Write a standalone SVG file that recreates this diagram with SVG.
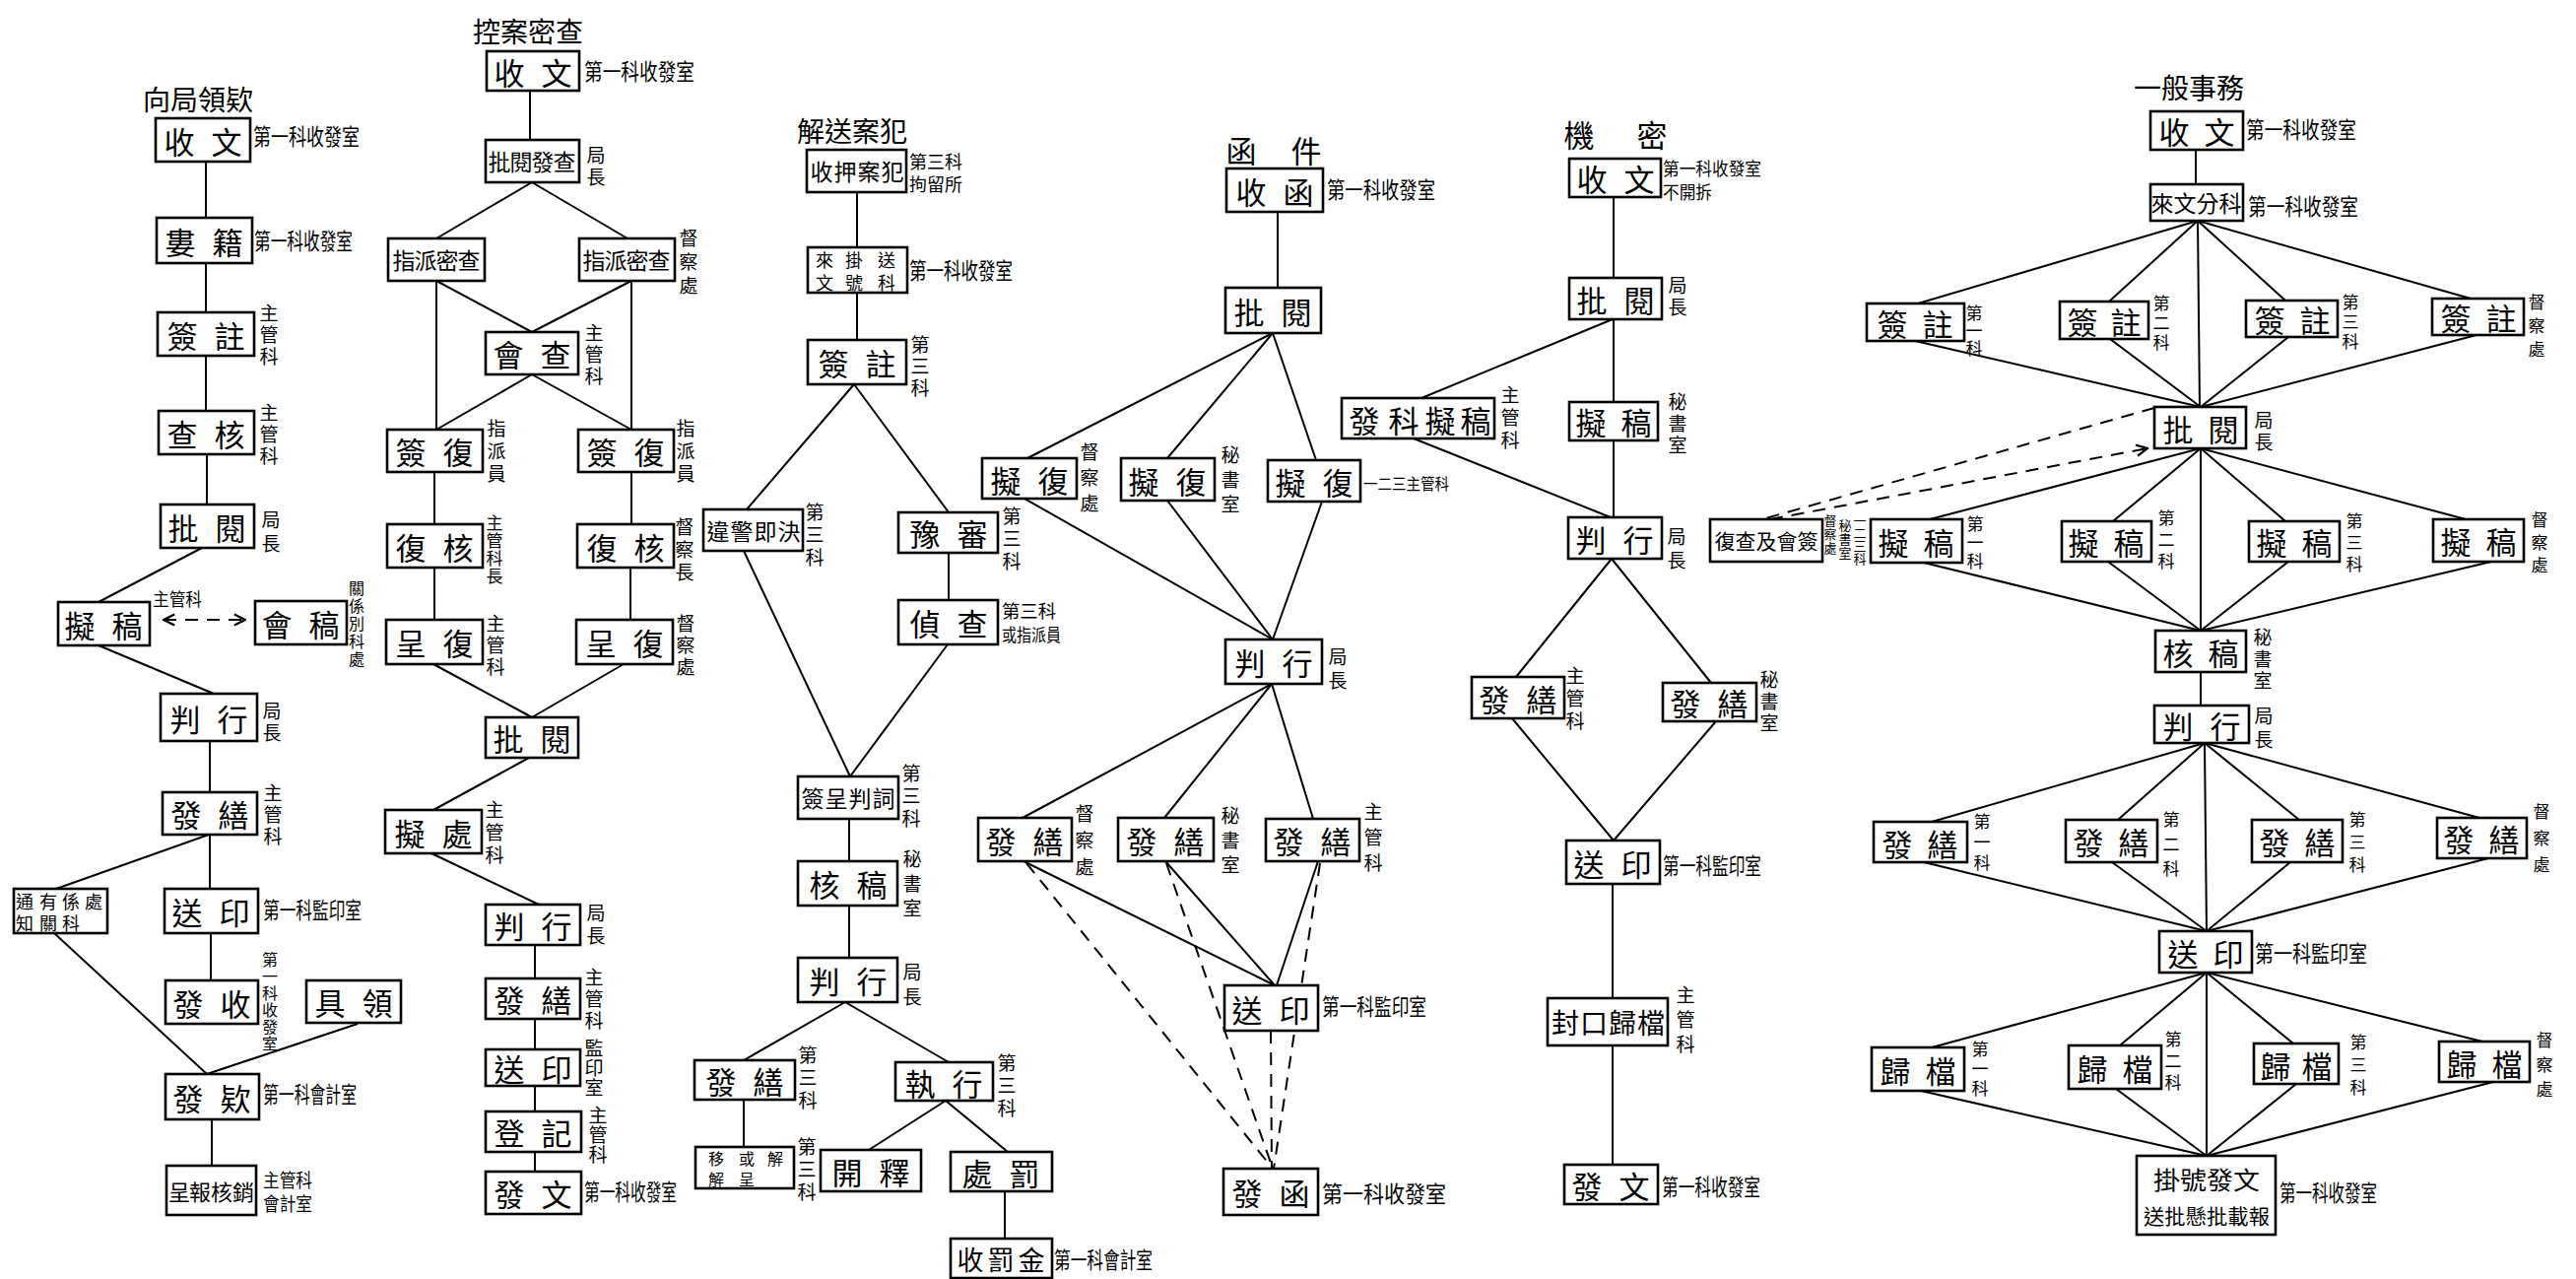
<svg xmlns="http://www.w3.org/2000/svg" width="2615" height="1298" viewBox="0 0 2615 1298">
<defs>
<style>
rect.b{fill:#fff;stroke:#000;stroke-width:2.6}
text{font-family:"Noto Sans CJK TC","Noto Sans CJK SC",sans-serif;fill:#000;dominant-baseline:central}
.t{font-size:31px;text-anchor:middle}
.t4{font-size:23px;text-anchor:middle}
.h{font-size:28px;text-anchor:middle}
.l{font-size:23px}
.v{font-size:19px;text-anchor:middle}
.vs{font-size:17px;text-anchor:middle}
.s{font-size:18px;text-anchor:middle}
.k line{stroke:#000;stroke-width:2;fill:none}
.k line.d{stroke-dasharray:13 9}
</style>
<marker id="ah" viewBox="0 0 10 10" refX="9" refY="5" markerWidth="14" markerHeight="14" markerUnits="userSpaceOnUse" orient="auto-start-reverse"><path d="M1,1 L9,5 L1,9" fill="none" stroke="#000" stroke-width="1.6"/></marker>
</defs>
<rect width="2615" height="1298" fill="#fff"/>

<g id="connectors" class="k">
<!-- column 1 -->
<line x1="209" y1="164" x2="209" y2="221"/><line x1="209" y1="267" x2="209" y2="317"/><line x1="209" y1="361" x2="209" y2="417"/><line x1="210" y1="461" x2="210" y2="512"/>
<line x1="205" y1="556" x2="100" y2="611"/><line x1="100" y1="655" x2="217" y2="704"/>
<line x1="213" y1="752" x2="213" y2="804"/><line x1="212" y1="847" x2="57" y2="902"/><line x1="213" y1="847" x2="213" y2="902"/>
<line x1="214" y1="947" x2="214" y2="995"/><line x1="55" y1="947" x2="210" y2="1090"/><line x1="363" y1="1039" x2="210" y2="1090"/>
<line x1="215" y1="1136" x2="215" y2="1183"/>
<line class="d" x1="166" y1="629" x2="249" y2="629" marker-start="url(#ah)" marker-end="url(#ah)"/>
<!-- column 2 -->
<line x1="538" y1="92" x2="538" y2="142"/>
<line x1="540" y1="185" x2="443" y2="242"/><line x1="540" y1="185" x2="637" y2="242"/>
<line x1="443" y1="285" x2="443" y2="436"/><line x1="443" y1="285" x2="540" y2="337"/>
<line x1="641" y1="285" x2="540" y2="337"/><line x1="641" y1="285" x2="641" y2="436"/>
<line x1="540" y1="380" x2="443" y2="436"/><line x1="540" y1="380" x2="641" y2="436"/>
<line x1="441" y1="479" x2="441" y2="532"/><line x1="641" y1="479" x2="641" y2="532"/>
<line x1="441" y1="576" x2="441" y2="629"/><line x1="640" y1="576" x2="640" y2="629"/>
<line x1="440" y1="674" x2="540" y2="728"/><line x1="633" y1="674" x2="540" y2="728"/>
<line x1="537" y1="769" x2="440" y2="822"/><line x1="438" y1="866" x2="547" y2="918"/>
<line x1="543" y1="959" x2="543" y2="993"/><line x1="543" y1="1034" x2="543" y2="1065"/><line x1="543" y1="1102" x2="543" y2="1128"/><line x1="543" y1="1169" x2="543" y2="1189"/>
<!-- column 3 -->
<line x1="870" y1="195" x2="870" y2="251"/><line x1="870" y1="297" x2="870" y2="345"/>
<line x1="867" y1="390" x2="758" y2="517"/><line x1="867" y1="390" x2="963" y2="520"/>
<line x1="755" y1="559" x2="863" y2="788"/><line x1="963" y1="561" x2="963" y2="609"/><line x1="962" y1="654" x2="863" y2="788"/>
<line x1="862" y1="831" x2="862" y2="874"/><line x1="862" y1="919" x2="862" y2="972"/>
<line x1="858" y1="1017" x2="755" y2="1076"/><line x1="858" y1="1017" x2="963" y2="1078"/>
<line x1="755" y1="1116" x2="755" y2="1164"/>
<line x1="960" y1="1117" x2="882" y2="1167"/><line x1="960" y1="1117" x2="1023" y2="1169"/>
<line x1="1020" y1="1209" x2="1020" y2="1257"/>
<!-- column 4 -->
<line x1="1297" y1="215" x2="1297" y2="292"/>
<line x1="1292" y1="338" x2="1043" y2="465"/><line x1="1292" y1="338" x2="1185" y2="465"/><line x1="1292" y1="338" x2="1336" y2="467"/>
<line x1="1040" y1="506" x2="1292" y2="649"/><line x1="1185" y1="508" x2="1292" y2="649"/><line x1="1342" y1="509" x2="1292" y2="649"/>
<line x1="1291" y1="694" x2="1038" y2="830"/><line x1="1291" y1="694" x2="1182" y2="830"/><line x1="1291" y1="694" x2="1333" y2="831"/>
<line x1="1039" y1="874" x2="1294" y2="1000"/><line x1="1183" y1="874" x2="1294" y2="1000"/><line x1="1338" y1="874" x2="1296" y2="1000"/>
<line class="d" x1="1042" y1="876" x2="1292" y2="1186"/><line class="d" x1="1184" y1="876" x2="1292" y2="1186"/><line class="d" x1="1340" y1="876" x2="1293" y2="1186"/>
<line class="d" x1="1290" y1="1046" x2="1291" y2="1186"/>
<!-- column 5 -->
<line x1="1638" y1="200" x2="1638" y2="282"/><line x1="1638" y1="324" x2="1638" y2="408"/><line x1="1638" y1="447" x2="1638" y2="525"/>
<line x1="1637" y1="324" x2="1443" y2="404"/><line x1="1435" y1="445" x2="1635" y2="525"/>
<line x1="1636" y1="567" x2="1539" y2="687"/><line x1="1636" y1="567" x2="1737" y2="693"/>
<line x1="1535" y1="729" x2="1638" y2="853"/><line x1="1742" y1="732" x2="1638" y2="853"/>
<line x1="1637" y1="897" x2="1637" y2="1013"/><line x1="1637" y1="1061" x2="1637" y2="1182"/>
<!-- column 6 -->
<line x1="2229" y1="152" x2="2229" y2="187"/>
<line x1="2231" y1="224" x2="1947" y2="308"/><line x1="2231" y1="224" x2="2141" y2="306"/><line x1="2231" y1="224" x2="2320" y2="305"/><line x1="2231" y1="224" x2="2508" y2="303"/><line x1="2231" y1="224" x2="2233" y2="413"/>
<line x1="1944" y1="346" x2="2234" y2="413"/><line x1="2142" y1="344" x2="2234" y2="413"/><line x1="2323" y1="342" x2="2234" y2="413"/><line x1="2514" y1="340" x2="2234" y2="413"/>
<line x1="2234" y1="455" x2="1959" y2="527"/><line x1="2234" y1="455" x2="2145" y2="529"/><line x1="2234" y1="455" x2="2320" y2="529"/><line x1="2234" y1="455" x2="2503" y2="527"/><line x1="2234" y1="455" x2="2234" y2="640"/>
<line x1="1953" y1="571" x2="2234" y2="640"/><line x1="2140" y1="570" x2="2234" y2="640"/><line x1="2323" y1="570" x2="2234" y2="640"/><line x1="2529" y1="570" x2="2234" y2="640"/>
<line x1="2234" y1="682" x2="2234" y2="716"/>
<line x1="2238" y1="754" x2="1961" y2="834"/><line x1="2238" y1="754" x2="2150" y2="832"/><line x1="2238" y1="754" x2="2334" y2="832"/><line x1="2238" y1="754" x2="2517" y2="830"/><line x1="2238" y1="754" x2="2240" y2="945"/>
<line x1="1953" y1="875" x2="2240" y2="945"/><line x1="2144" y1="875" x2="2240" y2="945"/><line x1="2325" y1="875" x2="2240" y2="945"/><line x1="2526" y1="871" x2="2240" y2="945"/>
<line x1="2240" y1="987" x2="1961" y2="1063"/><line x1="2240" y1="987" x2="2152" y2="1061"/><line x1="2240" y1="987" x2="2328" y2="1059"/><line x1="2240" y1="987" x2="2520" y2="1057"/><line x1="2240" y1="987" x2="2240" y2="1173"/>
<line x1="1950" y1="1107" x2="2240" y2="1173"/><line x1="2148" y1="1105" x2="2240" y2="1173"/><line x1="2331" y1="1100" x2="2240" y2="1173"/><line x1="2531" y1="1098" x2="2240" y2="1173"/>
<line class="d" x1="2187" y1="414" x2="1789" y2="527"/>
<line class="d" x1="1797" y1="527" x2="2180" y2="455" marker-end="url(#ah)"/>
</g>

<!-- ================= column 1 ================= -->
<g id="c1-title"><text class="h" x="201" y="100">向局領欵</text></g>
<g id="c1-n1"><rect class="b" x="158" y="120" width="96" height="44"/><text class="t" x="182 230" y="142">收文</text><text class="l" x="257" y="137" textLength="108" lengthAdjust="spacingAndGlyphs">第一科收發室</text></g>
<g id="c1-n2"><rect class="b" x="159" y="221" width="97" height="46"/><text class="t" x="183 231" y="244">婁籍</text><text class="l" x="258" y="243" textLength="100" lengthAdjust="spacingAndGlyphs">第一科收發室</text></g>
<g id="c1-n3"><rect class="b" x="160" y="317" width="98" height="44"/><text class="t" x="185 233" y="339">簽註</text><text class="v" x="273 273 273" y="316 338 360">主管科</text></g>
<g id="c1-n4"><rect class="b" x="161" y="417" width="97" height="44"/><text class="t" x="185 233" y="439">查核</text><text class="v" x="273 273 273" y="417 439 461">主管科</text></g>
<g id="c1-n5"><rect class="b" x="163" y="512" width="95" height="44"/><text class="t" x="186 234" y="534">批閱</text><text class="v" x="275 275" y="526 550">局長</text></g>
<g id="c1-n6"><rect class="b" x="59" y="611" width="93" height="44"/><text class="t" x="81 129" y="633">擬稿</text><text class="l" x="155" y="607" style="font-size:18px" textLength="50" lengthAdjust="spacingAndGlyphs">主管科</text></g>
<g id="c1-n7"><rect class="b" x="259" y="610" width="93" height="44"/><text class="t" x="281 329" y="632">會稿</text><text class="vs" style="font-size:16px" x="362 362 362 362 362" y="596 614 632 650 668">關係別科處</text></g>
<g id="c1-n8"><rect class="b" x="163" y="704" width="98" height="48"/><text class="t" x="188 236" y="728">判行</text><text class="v" x="276 276" y="720 742">局長</text></g>
<g id="c1-n9"><rect class="b" x="165" y="804" width="96" height="43"/><text class="t" x="189 237" y="825">發繕</text><text class="v" x="277 277 277" y="803 825 847">主管科</text></g>
<g id="c1-n10"><rect class="b" x="14" y="902" width="95" height="45"/><text class="s" x="25 25" y="914 936">通知</text><text class="s" x="49 49" y="914 936">有關</text><text class="s" x="72 72" y="914 936">係科</text><text class="s" x="95" y="914">處</text></g>
<g id="c1-n11"><rect class="b" x="167" y="902" width="95" height="45"/><text class="t" x="190 238" y="924">送印</text><text class="l" x="267" y="922" textLength="100" lengthAdjust="spacingAndGlyphs">第一科監印室</text></g>
<g id="c1-n12"><rect class="b" x="168" y="995" width="94" height="44"/><text class="t" x="191 239" y="1017">發收</text><text class="vs" style="font-size:16px" x="274 274 274 274 274 274" y="973 990 1007 1024 1041 1058">第一科收發室</text></g>
<g id="c1-n13"><rect class="b" x="311" y="995" width="96" height="43"/><text class="t" x="335 383" y="1016">具領</text></g>
<g id="c1-n14"><rect class="b" x="168" y="1090" width="95" height="46"/><text class="t" x="191 239" y="1113">發欵</text><text class="l" x="267" y="1109" textLength="95" lengthAdjust="spacingAndGlyphs">第一科會計室</text></g>
<g id="c1-n15"><rect class="b" x="169" y="1183" width="91" height="50"/><text class="t4" style="font-size:22px" x="182 203 225 247" y="1208">呈報核銷</text><text class="l" style="font-size:19px" x="267" y="1196" textLength="50" lengthAdjust="spacingAndGlyphs">主管科</text><text class="l" style="font-size:19px" x="267" y="1220" textLength="50" lengthAdjust="spacingAndGlyphs">會計室</text></g>

<!-- ================= column 2 ================= -->
<g id="c2-title"><text class="h" x="536" y="31">控案密查</text></g>
<g id="c2-n1"><rect class="b" x="494" y="52" width="94" height="40"/><text class="t" x="517 565" y="72">收文</text><text class="l" x="593" y="71" textLength="112" lengthAdjust="spacingAndGlyphs">第一科收發室</text></g>
<g id="c2-n2"><rect class="b" x="493" y="142" width="95" height="43"/><text class="t4" x="507 529 551 573" y="163">批閱發查</text><text class="v" x="605 605" y="156 178">局長</text></g>
<g id="c2-n3"><rect class="b" x="394" y="242" width="98" height="43"/><text class="t4" x="410 432 454 476" y="263">指派密查</text></g>
<g id="c2-n4"><rect class="b" x="588" y="242" width="97" height="43"/><text class="t4" x="603 625 647 669" y="263">指派密查</text><text class="v" x="699 699 699" y="240 264 288">督察處</text></g>
<g id="c2-n5"><rect class="b" x="493" y="337" width="94" height="43"/><text class="t" x="516 564" y="358">會查</text><text class="v" x="603 603 603" y="336 358 380">主管科</text></g>
<g id="c2-n6"><rect class="b" x="393" y="436" width="97" height="43"/><text class="t" x="417 465" y="457">簽復</text><text class="v" x="504 504 504" y="433 456 479">指派員</text></g>
<g id="c2-n7"><rect class="b" x="587" y="436" width="97" height="43"/><text class="t" x="611 659" y="457">簽復</text><text class="v" x="696 696 696" y="433 456 479">指派員</text></g>
<g id="c2-n8"><rect class="b" x="393" y="532" width="97" height="44"/><text class="t" x="417 465" y="554">復核</text><text class="vs" x="502 502 502 502" y="529 547 565 583">主管科長</text></g>
<g id="c2-n9"><rect class="b" x="586" y="532" width="98" height="44"/><text class="t" x="611 659" y="554">復核</text><text class="v" x="695 695 695" y="533 556 579">督察長</text></g>
<g id="c2-n10"><rect class="b" x="392" y="629" width="98" height="45"/><text class="t" x="417 465" y="651">呈復</text><text class="v" x="503 503 503" y="631 653 675">主管科</text></g>
<g id="c2-n11"><rect class="b" x="585" y="629" width="98" height="45"/><text class="t" x="610 658" y="651">呈復</text><text class="v" x="696 696 696" y="631 653 675">督察處</text></g>
<g id="c2-n12"><rect class="b" x="493" y="728" width="94" height="41"/><text class="t" x="516 564" y="748">批閱</text></g>
<g id="c2-n13"><rect class="b" x="391" y="822" width="98" height="44"/><text class="t" x="416 464" y="844">擬處</text><text class="v" x="502 502 502" y="820 843 866">主管科</text></g>
<g id="c2-n14"><rect class="b" x="493" y="918" width="96" height="41"/><text class="t" x="517 565" y="938">判行</text><text class="v" x="605 605" y="925 948">局長</text></g>
<g id="c2-n15"><rect class="b" x="493" y="993" width="96" height="41"/><text class="t" x="517 565" y="1013">發繕</text><text class="v" x="603 603 603" y="990 1012 1034">主管科</text></g>
<g id="c2-n16"><rect class="b" x="493" y="1065" width="96" height="37"/><text class="t" x="517 565" y="1083">送印</text><text class="v" x="603 603 603" y="1062 1082 1102">監印室</text></g>
<g id="c2-n17"><rect class="b" x="493" y="1128" width="97" height="41"/><text class="t" x="517 565" y="1148">登記</text><text class="v" x="607 607 607" y="1130 1150 1170">主管科</text></g>
<g id="c2-n18"><rect class="b" x="493" y="1189" width="97" height="43"/><text class="t" x="517 565" y="1210">發文</text><text class="l" x="593" y="1208" textLength="94" lengthAdjust="spacingAndGlyphs">第一科收發室</text></g>

<!-- ================= column 3 ================= -->
<g id="c3-title"><text class="h" x="865" y="132">解送案犯</text></g>
<g id="c3-n1"><rect class="b" x="819" y="152" width="101" height="43"/><text class="t4" x="834 858 882 906" y="173">收押案犯</text><text class="l" style="font-size:18px" x="923" y="163" textLength="54" lengthAdjust="spacingAndGlyphs">第三科</text><text class="l" style="font-size:18px" x="923" y="186" textLength="54" lengthAdjust="spacingAndGlyphs">拘留所</text></g>
<g id="c3-n2"><rect class="b" x="820" y="251" width="101" height="46"/><text class="s" x="837 837" y="263 286">來文</text><text class="s" x="867 867" y="263 286">掛號</text><text class="s" x="900 900" y="263 286">送科</text><text class="l" x="923" y="273" textLength="105" lengthAdjust="spacingAndGlyphs">第一科收發室</text></g>
<g id="c3-n3"><rect class="b" x="820" y="345" width="100" height="45"/><text class="t" x="846 894" y="367">簽註</text><text class="v" x="934 934 934" y="348 370 392">第三科</text></g>
<g id="c3-n4"><rect class="b" x="714" y="517" width="101" height="42"/><text class="t4" x="729 753 777 801" y="538">違警即決</text><text class="v" x="827 827 827" y="518 541 564">第三科</text></g>
<g id="c3-n5"><rect class="b" x="912" y="520" width="101" height="41"/><text class="t" x="939 987" y="540">豫審</text><text class="v" x="1027 1027 1027" y="522 545 568">第三科</text></g>
<g id="c3-n6"><rect class="b" x="912" y="609" width="101" height="45"/><text class="t" x="939 987" y="631">偵查</text><text class="l" style="font-size:18px" x="1017" y="619" textLength="55" lengthAdjust="spacingAndGlyphs">第三科</text><text class="l" style="font-size:18px" x="1017" y="643" textLength="60" lengthAdjust="spacingAndGlyphs">或指派員</text></g>
<g id="c3-n7"><rect class="b" x="810" y="788" width="102" height="43"/><text class="t4" x="825 849 873 897" y="809">簽呈判詞</text><text class="v" x="925 925 925" y="783 806 829">第三科</text></g>
<g id="c3-n8"><rect class="b" x="810" y="874" width="101" height="45"/><text class="t" x="837 885" y="896">核稿</text><text class="v" x="926 926 926" y="870 895 920">秘書室</text></g>
<g id="c3-n9"><rect class="b" x="810" y="972" width="101" height="45"/><text class="t" x="837 885" y="994">判行</text><text class="v" x="926 926" y="985 1010">局長</text></g>
<g id="c3-n10"><rect class="b" x="705" y="1076" width="102" height="40"/><text class="t" x="732 780" y="1096">發繕</text><text class="v" x="820 820 820" y="1069 1092 1115">第三科</text></g>
<g id="c3-n11"><rect class="b" x="706" y="1164" width="100" height="42"/><text class="s" style="font-size:16px" x="727 727" y="1175 1196">移解</text><text class="s" style="font-size:16px" x="758 758" y="1175 1196">或呈</text><text class="s" style="font-size:16px" x="787" y="1175">解</text><text class="v" x="819 819 819" y="1162 1185 1208">第三科</text></g>
<g id="c3-n12"><rect class="b" x="909" y="1078" width="99" height="39"/><text class="t" x="934 982" y="1098">執行</text><text class="v" x="1022 1022 1022" y="1077 1100 1123">第三科</text></g>
<g id="c3-n13"><rect class="b" x="833" y="1167" width="102" height="42"/><text class="t" x="860 908" y="1188">開釋</text></g>
<g id="c3-n14"><rect class="b" x="965" y="1169" width="103" height="40"/><text class="t" x="992 1040" y="1189">處罰</text></g>
<g id="c3-n15"><rect class="b" x="965" y="1257" width="103" height="40"/><text class="t" style="font-size:27px" x="985 1016 1047" y="1277">收罰金</text><text class="l" x="1070" y="1277" textLength="100" lengthAdjust="spacingAndGlyphs">第一科會計室</text></g>

<!-- ================= column 4 ================= -->
<g id="c4-title"><text class="t" x="1260 1326" y="151">函件</text></g>
<g id="c4-n1"><rect class="b" x="1245" y="171" width="98" height="44"/><text class="t" x="1270 1318" y="193">收函</text><text class="l" x="1347" y="191" textLength="110" lengthAdjust="spacingAndGlyphs">第一科收發室</text></g>
<g id="c4-n2"><rect class="b" x="1244" y="292" width="97" height="46"/><text class="t" x="1268 1316" y="315">批閱</text></g>
<g id="c4-n3"><rect class="b" x="997" y="465" width="96" height="41"/><text class="t" x="1021 1069" y="486">擬復</text><text class="v" x="1106 1106 1106" y="457 483 509">督察處</text></g>
<g id="c4-n4"><rect class="b" x="1138" y="465" width="95" height="43"/><text class="t" x="1161 1209" y="487">擬復</text><text class="v" x="1249 1249 1249" y="460 485 510">秘書室</text></g>
<g id="c4-n5"><rect class="b" x="1287" y="467" width="94" height="42"/><text class="t" x="1310 1358" y="488">擬復</text><text class="l" style="font-size:16px" x="1384" y="490" textLength="87" lengthAdjust="spacingAndGlyphs">一二三主管科</text></g>
<g id="c4-n6"><rect class="b" x="1244" y="649" width="98" height="45"/><text class="t" x="1269 1317" y="671">判行</text><text class="v" x="1358 1358" y="665 689">局長</text></g>
<g id="c4-n7"><rect class="b" x="993" y="830" width="95" height="44"/><text class="t" x="1016 1064" y="852">發繕</text><text class="v" x="1101 1101 1101" y="824 851 878">督察處</text></g>
<g id="c4-n8"><rect class="b" x="1135" y="830" width="97" height="44"/><text class="t" x="1159 1207" y="852">發繕</text><text class="v" x="1249 1249 1249" y="826 851 876">秘書室</text></g>
<g id="c4-n9"><rect class="b" x="1285" y="831" width="95" height="43"/><text class="t" x="1308 1356" y="852">發繕</text><text class="v" x="1394 1394 1394" y="822 848 874">主管科</text></g>
<g id="c4-n10"><rect class="b" x="1243" y="1000" width="95" height="46"/><text class="t" x="1266 1314" y="1023">送印</text><text class="l" x="1342" y="1020" textLength="106" lengthAdjust="spacingAndGlyphs">第一科監印室</text></g>
<g id="c4-n11"><rect class="b" x="1242" y="1186" width="96" height="47"/><text class="t" x="1266 1314" y="1209">發函</text><text class="l" x="1342" y="1210" textLength="126" lengthAdjust="spacingAndGlyphs">第一科收發室</text></g>

<!-- ================= column 5 ================= -->
<g id="c5-title"><text class="t" x="1603 1677" y="135">機密</text></g>
<g id="c5-n1"><rect class="b" x="1593" y="161" width="93" height="39"/><text class="t" x="1616 1664" y="180">收文</text><text class="l" style="font-size:18px" x="1688" y="170" textLength="100" lengthAdjust="spacingAndGlyphs">第一科收發室</text><text class="l" style="font-size:18px" x="1688" y="194" textLength="50" lengthAdjust="spacingAndGlyphs">不開拆</text></g>
<g id="c5-n2"><rect class="b" x="1593" y="282" width="94" height="42"/><text class="t" x="1616 1664" y="303">批閱</text><text class="v" x="1703 1703" y="288 310">局長</text></g>
<g id="c5-n3"><rect class="b" x="1362" y="404" width="155" height="41"/><text class="t" x="1385 1425 1462 1498" y="425">發科擬稿</text><text class="v" x="1533 1533 1533" y="399 422 445">主管科</text></g>
<g id="c5-n4"><rect class="b" x="1593" y="408" width="90" height="39"/><text class="t" x="1615 1661" y="427">擬稿</text><text class="v" x="1703 1703 1703" y="406 428 450">秘書室</text></g>
<g id="c5-n5"><rect class="b" x="1592" y="525" width="95" height="42"/><text class="t" x="1615 1663" y="546">判行</text><text class="v" x="1702 1702" y="543 567">局長</text></g>
<g id="c5-n6"><rect class="b" x="1494" y="687" width="94" height="42"/><text class="t" x="1517 1565" y="708">發繕</text><text class="v" x="1599 1599 1599" y="684 707 730">主管科</text></g>
<g id="c5-n7"><rect class="b" x="1688" y="693" width="95" height="39"/><text class="t" x="1711 1759" y="712">發繕</text><text class="v" x="1796 1796 1796" y="688 710 732">秘書室</text></g>
<g id="c5-n8"><rect class="b" x="1590" y="853" width="95" height="44"/><text class="t" x="1613 1661" y="875">送印</text><text class="l" x="1688" y="877" textLength="100" lengthAdjust="spacingAndGlyphs">第一科監印室</text></g>
<g id="c5-n9"><rect class="b" x="1571" y="1013" width="122" height="48"/><text class="t" style="font-size:28px" x="1589 1618 1647 1676" y="1037">封口歸檔</text><text class="v" x="1711 1711 1711" y="1008 1033 1058">主管科</text></g>
<g id="c5-n10"><rect class="b" x="1588" y="1182" width="95" height="40"/><text class="t" x="1611 1659" y="1202">發文</text><text class="l" x="1687" y="1203" textLength="100" lengthAdjust="spacingAndGlyphs">第一科收發室</text></g>

<!-- ================= column 6 ================= -->
<g id="c6-title"><text class="h" x="2222" y="88">一般事務</text></g>
<g id="c6-n1"><rect class="b" x="2183" y="113" width="94" height="39"/><text class="t" x="2207 2253" y="132">收文</text><text class="l" x="2280" y="130" textLength="112" lengthAdjust="spacingAndGlyphs">第一科收發室</text></g>
<g id="c6-n2"><rect class="b" x="2183" y="187" width="94" height="37"/><text class="t4" x="2195 2218 2241 2264" y="205">來文分科</text><text class="l" x="2282" y="208" textLength="112" lengthAdjust="spacingAndGlyphs">第一科收發室</text></g>
<g id="c6-n3"><rect class="b" x="1895" y="308" width="99" height="38"/><text class="t" x="1921 1967" y="327">簽註</text><text class="vs" x="2004 2004 2004" y="316 334 352">第一科</text></g>
<g id="c6-n4"><rect class="b" x="2091" y="306" width="90" height="38"/><text class="t" x="2114 2158" y="325">簽註</text><text class="vs" x="2194 2194 2194" y="306 326 346">第二科</text></g>
<g id="c6-n5"><rect class="b" x="2280" y="305" width="93" height="37"/><text class="t" x="2304 2350" y="323">簽註</text><text class="vs" x="2386 2386 2386" y="305 325 345">第三科</text></g>
<g id="c6-n6"><rect class="b" x="2469" y="303" width="93" height="37"/><text class="t" x="2493 2539" y="321">簽註</text><text class="vs" x="2575 2575 2575" y="305 329 353">督察處</text></g>
<g id="c6-n7"><rect class="b" x="2187" y="413" width="93" height="42"/><text class="t" x="2211 2257" y="434">批閱</text><text class="v" x="2298 2298" y="425 447">局長</text></g>
<g id="c6-n8"><rect class="b" x="1736" y="527" width="114" height="43"/><text class="t4" style="font-size:21px" x="1751 1772 1793 1814 1835" y="548">復查及會簽</text><text class="vs" style="font-size:13px" x="1858 1858 1858" y="527 541 555">督察處</text><text class="vs" style="font-size:13px" x="1873 1873 1873" y="532 546 560">秘書室</text><text class="vs" style="font-size:13px" x="1888 1888 1888 1888" y="527 540 553 566">一二三科</text></g>
<g id="c6-n9"><rect class="b" x="1899" y="527" width="93" height="44"/><text class="t" x="1922 1968" y="549">擬稿</text><text class="vs" x="2005 2005 2005" y="530 549 568">第一科</text></g>
<g id="c6-n10"><rect class="b" x="2093" y="529" width="91" height="41"/><text class="t" x="2115 2161" y="549">擬稿</text><text class="vs" x="2199 2199 2199" y="524 546 568">第二科</text></g>
<g id="c6-n11"><rect class="b" x="2283" y="529" width="92" height="41"/><text class="t" x="2306 2352" y="549">擬稿</text><text class="vs" x="2390 2390 2390" y="527 549 571">第三科</text></g>
<g id="c6-n12"><rect class="b" x="2470" y="527" width="92" height="43"/><text class="t" x="2493 2539" y="548">擬稿</text><text class="vs" x="2578 2578 2578" y="526 549 572">督察處</text></g>
<g id="c6-n13"><rect class="b" x="2188" y="640" width="92" height="42"/><text class="t" x="2211 2257" y="661">核稿</text><text class="v" x="2297 2297 2297" y="645 667 689">秘書室</text></g>
<g id="c6-n14"><rect class="b" x="2187" y="716" width="96" height="38"/><text class="t" x="2211 2259" y="735">判行</text><text class="v" x="2298 2298" y="725 749">局長</text></g>
<g id="c6-n15"><rect class="b" x="1902" y="834" width="95" height="41"/><text class="t" x="1926 1972" y="855">發繕</text><text class="vs" x="2012 2012 2012" y="832 853 874">第一科</text></g>
<g id="c6-n16"><rect class="b" x="2097" y="832" width="93" height="43"/><text class="t" x="2120 2166" y="853">發繕</text><text class="vs" x="2204 2204 2204" y="830 855 880">第二科</text></g>
<g id="c6-n17"><rect class="b" x="2286" y="832" width="92" height="43"/><text class="t" x="2309 2355" y="853">發繕</text><text class="vs" x="2393 2393 2393" y="830 853 876">第三科</text></g>
<g id="c6-n18"><rect class="b" x="2474" y="830" width="91" height="41"/><text class="t" x="2496 2542" y="850">發繕</text><text class="vs" x="2580 2580 2580" y="822 849 876">督察處</text></g>
<g id="c6-n19"><rect class="b" x="2192" y="945" width="94" height="42"/><text class="t" x="2216 2262" y="966">送印</text><text class="l" x="2289" y="966" textLength="114" lengthAdjust="spacingAndGlyphs">第一科監印室</text></g>
<g id="c6-n20"><rect class="b" x="1900" y="1063" width="94" height="44"/><text class="t" x="1924 1970" y="1085">歸檔</text><text class="vs" x="2010 2010 2010" y="1063 1083 1103">第一科</text></g>
<g id="c6-n21"><rect class="b" x="2100" y="1061" width="94" height="44"/><text class="t" x="2124 2170" y="1083">歸檔</text><text class="vs" x="2206 2206 2206" y="1053 1075 1097">第二科</text></g>
<g id="c6-n22"><rect class="b" x="2288" y="1059" width="86" height="41"/><text class="t" x="2310 2352" y="1080">歸檔</text><text class="vs" x="2394 2394 2394" y="1056 1079 1102">第三科</text></g>
<g id="c6-n23"><rect class="b" x="2476" y="1057" width="92" height="41"/><text class="t" x="2499 2545" y="1078">歸檔</text><text class="vs" x="2583 2583 2583" y="1054 1079 1104">督察處</text></g>
<g id="c6-n24"><rect class="b" x="2169" y="1173" width="141" height="80"/><text class="t" style="font-size:25px" x="2240" y="1196" textLength="108" lengthAdjust="spacingAndGlyphs">掛號發文</text><text class="t" style="font-size:21px" x="2240" y="1233" textLength="128" lengthAdjust="spacingAndGlyphs">送批懸批載報</text><text class="l" x="2314" y="1209" textLength="99" lengthAdjust="spacingAndGlyphs">第一科收發室</text></g>
</svg>
